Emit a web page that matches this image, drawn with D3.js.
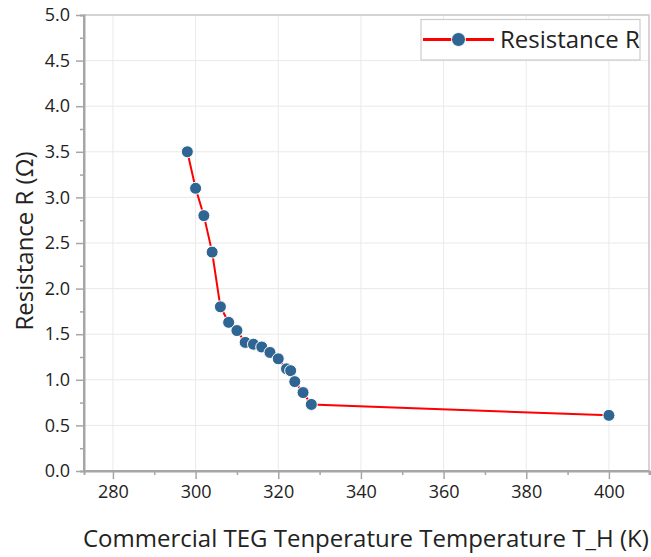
<!DOCTYPE html>
<html lang="en">
<head>
<meta charset="UTF-8">
<script src="https://d3js.org/d3.v7.min.js"></script>
<title>Resistance R</title>
<style>
  body { margin: 0; background: #fff; }
  svg text { font-family: "Open Sans", "Noto Sans", sans-serif; fill: #222; }
</style>
</head>
<body>
<svg id="chart" width="651" height="557"></svg>
<script>
// data
var temperature = [298, 300, 302, 304, 306, 308, 310, 312, 314, 316, 318, 320, 322, 323, 324, 326, 328, 400];
var resistance = [3.50, 3.10, 2.80, 2.40, 1.80, 1.63, 1.54, 1.41, 1.39, 1.36, 1.30, 1.23, 1.12, 1.10, 0.98, 0.86, 0.73, 0.61];
var xTicks = [280, 300, 320, 340, 360, 380, 400];
var yTicks = [0, 0.5, 1, 1.5, 2, 2.5, 3, 3.5, 4, 4.5, 5];
var seriesName = "Resistance R";

// plot box
var pLeft = 84, pRight = 649, pTop = 15, pBottom = 471;
var axisColor = "#a6a6a6";

var svg = d3.select("#chart");

var x = d3.scaleLinear().domain([273, 409.7]).range([pLeft, pRight]);
var y = d3.scaleLinear().domain([0, 5]).range([pBottom, pTop]);

// grid
svg.append("g").selectAll("line")
    .data(xTicks)
    .enter().append("line")
    .attr("x1", function (d) { return x(d); })
    .attr("x2", function (d) { return x(d); })
    .attr("y1", pTop).attr("y2", pBottom)
    .attr("stroke", "#e9e9e9").attr("stroke-width", 1);

svg.append("g").selectAll("line")
    .data(yTicks)
    .enter().append("line")
    .attr("x1", pLeft).attr("x2", pRight)
    .attr("y1", function (d) { return y(d); })
    .attr("y2", function (d) { return y(d); })
    .attr("stroke", "#e9e9e9").attr("stroke-width", 1);

// frame top/right
svg.append("path")
    .attr("d", "M" + pLeft + "," + pTop + "H" + pRight + "V" + pBottom)
    .attr("fill", "none").attr("stroke", "#c8c8c8").attr("stroke-width", 1.5);

// minor ticks
var xMinor = d3.range(270, 411, 10).filter(function (d) { return d >= 273 && xTicks.indexOf(d) < 0; });
var yMinor = d3.range(0.25, 5, 0.5);

var ejeX = svg.append("g")
    .attr("transform", "translate(0," + pBottom + ")")
    .call(d3.axisBottom(x).tickValues(xTicks).tickSize(8).tickPadding(6).tickFormat(d3.format("d")));
ejeX.append("g")
    .call(d3.axisBottom(x).tickValues(xMinor).tickSize(4).tickFormat(""));

var ejeY = svg.append("g")
    .attr("transform", "translate(" + pLeft + ",0)")
    .call(d3.axisLeft(y).tickValues(yTicks).tickSize(8).tickPadding(6).tickFormat(d3.format(".1f")));
ejeY.append("g")
    .call(d3.axisLeft(y).tickValues(yMinor).tickSize(4).tickFormat(""));

svg.selectAll(".domain").attr("stroke", axisColor).attr("stroke-width", 2);
ejeX.select(".domain").attr("d", "M" + (pLeft - 1) + ",0H" + pRight);
ejeY.select(".domain").attr("d", "M0," + pTop + "V" + (pBottom + 1));
svg.selectAll(".tick line").attr("stroke", axisColor).attr("stroke-width", 1.5);
svg.selectAll(".tick text").style("font-size", "18px").style("font-family", "'Open Sans', sans-serif").attr("fill", "#222");

// line
var points = temperature.map(function (t, i) { return [t, resistance[i]]; });
svg.append("path")
    .datum(points)
    .attr("fill", "none")
    .attr("stroke", "#ff0000")
    .attr("stroke-width", 2)
    .attr("d", d3.line().x(function (d) { return x(d[0]); }).y(function (d) { return y(d[1]); }));

svg.append("g").selectAll("circle")
    .data(points)
    .enter().append("circle")
    .attr("cx", function (d) { return x(d[0]); })
    .attr("cy", function (d) { return y(d[1]); })
    .attr("r", 6)
    .attr("fill", "#2e6592")
    .attr("stroke", "#ffffff")
    .attr("stroke-width", 1);

// legend
var legend = svg.append("g");
legend.append("rect")
    .attr("x", 421).attr("y", 19.5).attr("width", 219).attr("height", 40.5)
    .attr("fill", "#fff").attr("stroke", "#cccccc").attr("stroke-width", 1.2);
legend.append("line")
    .attr("x1", 423).attr("x2", 494).attr("y1", 39.5).attr("y2", 39.5)
    .attr("stroke", "#ff0000").attr("stroke-width", 3);
legend.append("circle")
    .attr("cx", 458.5).attr("cy", 39.5).attr("r", 7)
    .attr("fill", "#2e6592").attr("stroke", "#fff").attr("stroke-width", 1);
legend.append("text")
    .attr("x", 500).attr("y", 48)
    .style("font-size", "24px")
    .text(seriesName);

// axis titles
svg.append("text")
    .attr("x", 83).attr("y", 547)
    .style("font-size", "24px")
    .text("Commercial TEG Tenperature Temperature T_H (K)");

svg.append("text")
    .attr("transform", "translate(33,241) rotate(-90)")
    .attr("text-anchor", "middle")
    .style("font-size", "24px")
    .text("Resistance R (Ω)");
</script>
</body>
</html>
